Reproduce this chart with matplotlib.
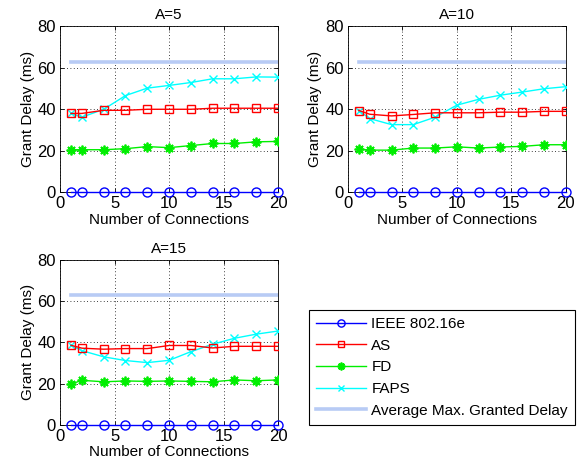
import matplotlib
matplotlib.use("Agg")
import matplotlib.pyplot as plt
import numpy as np

# data
conns = [1, 2, 4, 6, 8, 10, 12, 14, 16, 18, 20]
titles = ["A=5", "A=10", "A=15"]
avg_max_delay = 62.8

ieee = [0] * 11
as_a5 = [38, 38, 39.5, 39.5, 40, 40, 40, 40.5, 40.5, 40.5, 40.5]
fd_a5 = [20.5, 20.5, 20.5, 21, 22, 21.5, 22.5, 23.5, 23.5, 24.3, 24.5]
faps_a5 = [38, 36.2, 40, 46.6, 50.2, 51.5, 52.9, 54.7, 54.7, 55.6, 55.5]

as_a10 = [39.4, 37.6, 36.8, 37.5, 38.3, 38.3, 38.3, 38.6, 38.6, 39, 39]
fd_a10 = [20.8, 20.3, 20.3, 21.3, 21.3, 21.9, 21.3, 21.8, 22.1, 22.9, 22.9]
faps_a10 = [39.4, 35.5, 32.6, 32.6, 36.2, 42, 44.8, 46.8, 48.3, 49.9, 50.9]

as_a15 = [38.6, 37.2, 36.7, 37, 37, 38.5, 38.5, 37.3, 38.1, 38.1, 38.1]
fd_a15 = [19.8, 21.6, 20.9, 21.3, 21.1, 21.3, 21.1, 20.9, 21.8, 21.4, 21.8]
faps_a15 = [38.6, 36, 33, 31.2, 30.2, 31.3, 35.5, 39.1, 42, 44, 45.5]

labels = ["IEEE 802.16e", "AS", "FD", "FAPS", "Average Max. Granted Delay"]

plt.rcParams['font.family'] = 'Liberation Sans'
plt.rcParams['font.size'] = 11

fig = plt.figure(figsize=(5.78, 4.70), dpi=100)
rects = [[0.104, 0.591, 0.377, 0.353],
         [0.602, 0.591, 0.377, 0.353],
         [0.104, 0.096, 0.377, 0.351]]
series = [(as_a5, fd_a5, faps_a5), (as_a10, fd_a10, faps_a10), (as_a15, fd_a15, faps_a15)]

handles = []
for rect, title, (as_d, fd_d, faps_d) in zip(rects, titles, series):
    ax = fig.add_axes(rect)
    h_avg, = ax.plot([conns[0], conns[-1]], [avg_max_delay, avg_max_delay], color='#b8cbf5', lw=2.6, zorder=2)
    h_faps, = ax.plot(conns, faps_d, color='#00ffff', marker='x', ms=5.5, mew=1, lw=1, zorder=3)
    h_fd, = ax.plot(conns, fd_d, color='#00ee00', marker=(8, 2, 0), ms=7, mew=1.3, lw=1, zorder=3)
    h_as, = ax.plot(conns, as_d, color='#ff0000', marker='s', ms=6, mfc='none', mew=1, lw=1, zorder=3)
    h_ieee, = ax.plot(conns, ieee, color='#0000ff', marker='o', ms=6.5, mfc='none', mew=1, lw=1, zorder=4, clip_on=False)
    handles = [h_ieee, h_as, h_fd, h_faps, h_avg]
    ax.set_xlim(0, 20)
    ax.set_ylim(0, 80)
    ax.set_xticks([0, 5, 10, 15, 20])
    ax.set_yticks([0, 20, 40, 60, 80])
    ax.tick_params(direction='in', top=True, right=True, length=3, width=0.6, labelsize=12, pad=3)
    ax.grid(True, linestyle=(0, (1, 3)), color='black', lw=0.6)
    ax.set_xlabel("Number of Connections", fontsize=11, labelpad=1)
    ax.set_ylabel("Grant Delay (ms)", fontsize=11, labelpad=2)
    ax.set_title(title, fontsize=11, pad=5)
    for s in ax.spines.values():
        s.set_linewidth(0.6)

leg = fig.legend(handles, labels, loc='upper left', bbox_to_anchor=(0.534, 0.34),
                 borderaxespad=0, fancybox=False, edgecolor='black', framealpha=1,
                 handlelength=3.3, fontsize=11, labelspacing=0.5, borderpad=0.45,
                 handletextpad=0.35, markerscale=0.8)
leg.get_frame().set_linewidth(0.8)

fig.savefig("out.png", dpi=100)
